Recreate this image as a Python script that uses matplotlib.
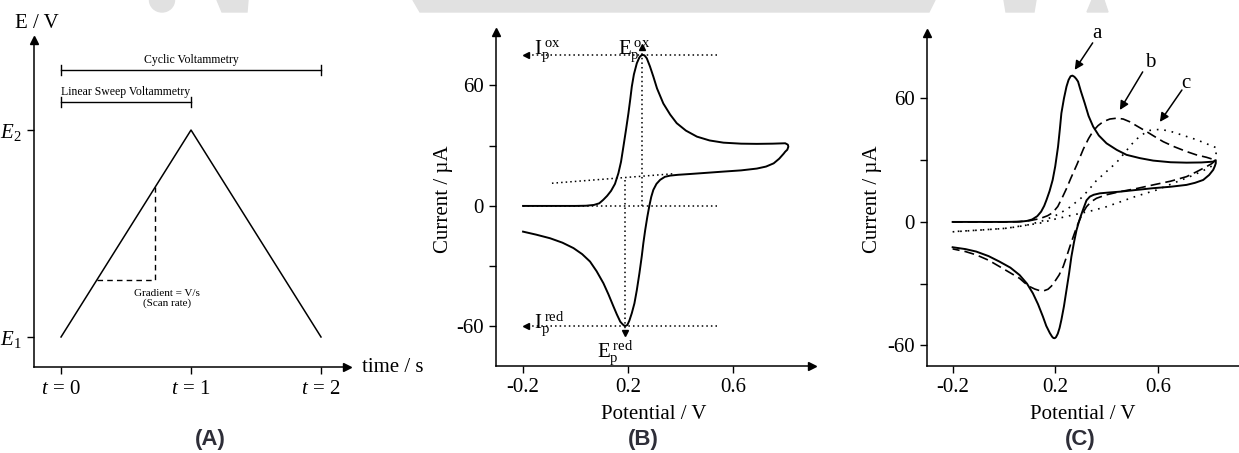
import matplotlib
matplotlib.use('Agg')
import matplotlib.pyplot as plt
from matplotlib.patches import Polygon, Ellipse

plt.rcParams['font.family'] = ['Liberation Serif', 'DejaVu Serif']
plt.rcParams['mathtext.fontset'] = 'custom'
plt.rcParams['mathtext.rm'] = 'Liberation Serif'
plt.rcParams['mathtext.it'] = 'Liberation Serif:italic'
plt.rcParams['axes.unicode_minus'] = False

# ---------- data ----------
# (A) potential waveform, E1 = 1, E2 = 2 (arbitrary units)
wave_t = [0, 1, 2]
wave_E = [1, 2, 1]
grad_t = [0.277, 0.723, 0.723]
grad_E = [1.277, 1.277, 1.723]
a_xticks = [0, 1, 2]
a_xlabels = ['$t$ = 0', '$t$ = 1', '$t$ = 2']
a_yticks = [1, 2]
a_ylabels = ['$E_1$', '$E_2$']

# (B) single cyclic voltammogram (potential V, current uA)
cv_E = [-0.2, -0.1, 0.0, 0.04, 0.07, 0.09, 0.105, 0.12, 0.135, 0.15, 0.163,
        0.173, 0.182, 0.192, 0.201, 0.208, 0.214, 0.222, 0.233, 0.243, 0.252,
        0.262, 0.271, 0.283, 0.296, 0.31, 0.334, 0.36, 0.385, 0.42, 0.462,
        0.51, 0.563, 0.63, 0.69, 0.75, 0.798, 0.808, 0.81,
        0.806, 0.798, 0.792, 0.775, 0.754, 0.725, 0.69, 0.63, 0.563, 0.5,
        0.436, 0.39, 0.36, 0.34, 0.322, 0.308, 0.296, 0.288, 0.281, 0.273,
        0.265, 0.258, 0.252, 0.243, 0.233, 0.224, 0.214, 0.205, 0.197, 0.189,
        0.182, 0.176, 0.17, 0.157, 0.144, 0.125, 0.106, 0.08, 0.055, 0.025,
        -0.008, -0.05, -0.097, -0.15, -0.2]
cv_I = [0, 0, 0, 0.1, 0.5, 1.3, 3, 5, 7.5, 11, 16.3,
        22, 29.5, 38, 46, 53, 59.4, 65.5, 71, 74, 75.2,
        75, 73.5, 69.5, 64.4, 58.5, 51, 45.5, 41.2, 37.5, 34.5,
        32.6, 31.5, 31, 30.9, 31, 31.2, 30.5, 29.5,
        28, 27, 26, 23.5, 21.2, 19.6, 18.6, 17.7, 17.1, 16.5,
        15.9, 15.5, 15.1, 14.5, 13, 11, 8, 4.5, 0.2, -5.5,
        -12, -18.5, -25, -33.5, -42, -48.5, -53.4, -57, -59.3, -59.8,
        -59.3, -58.5, -57.6, -54, -50, -44, -38.5, -32.5, -27.7, -24,
        -21, -18.3, -16.1, -14.3, -12.8]
ipa, ipc = 75.2, -59.8
epa, epc = 0.252, 0.189
base_E = [-0.09, 0.37]
base_I = [11.3, 16.0]

# (C) three voltammograms a, b, c
a_E = [-0.2, -0.1, 0.0, 0.06, 0.09, 0.11, 0.13, 0.145, 0.157, 0.166, 0.178,
       0.19, 0.2, 0.211, 0.218, 0.224, 0.234, 0.244, 0.252, 0.26, 0.267,
       0.275, 0.282, 0.289, 0.3, 0.315, 0.33, 0.348, 0.37, 0.40, 0.44,
       0.478, 0.53, 0.582, 0.65, 0.712, 0.77, 0.816, 0.826,
       0.826, 0.822, 0.816, 0.8, 0.777, 0.745, 0.712, 0.65, 0.582, 0.52,
       0.452, 0.41, 0.374, 0.35, 0.335, 0.322, 0.31, 0.3, 0.291, 0.283,
       0.273, 0.263, 0.254, 0.244, 0.234, 0.224, 0.217, 0.21, 0.203, 0.198,
       0.193, 0.188, 0.179, 0.165, 0.152, 0.133, 0.113, 0.09, 0.061, 0.025,
       -0.017, -0.06, -0.108, -0.15, -0.2]
a_I = [0, 0, 0, 0.1, 0.5, 1.2, 2.8, 5, 7.8, 10.7, 15,
       20.4, 27, 36.6, 45, 52.8, 60, 65.8, 69, 70.8, 71.1,
       70.5, 69.5, 68.2, 63.5, 57.7, 51.5, 46.3, 42, 38.2, 35,
       32.6, 31, 29.8, 29, 28.8, 28.9, 29.3, 30,
       28.5, 27, 25.3, 22.8, 20.4, 19, 18, 17.1, 16.4, 15.6,
       14.7, 14.3, 13.9, 13.2, 12.3, 10.5, 6.5, 3, -0.5, -4,
       -10, -16.9, -25, -33, -41, -47.6, -51.5, -54.3, -56, -56.5,
       -56.4, -55.8, -54, -50.5, -46, -40, -34.7, -30, -25.8, -22.2,
       -19.3, -16.6, -14.4, -13.2, -12.3]
b_E = [-0.2, 0.0, 0.05, 0.10, 0.14, 0.17, 0.19, 0.21, 0.23, 0.245, 0.26,
       0.285, 0.31, 0.33, 0.348, 0.367, 0.387, 0.413, 0.439, 0.465, 0.49,
       0.52, 0.556, 0.59, 0.621, 0.665, 0.712, 0.75, 0.79, 0.826,
       0.81, 0.79, 0.75, 0.712, 0.65, 0.582, 0.52, 0.452, 0.40, 0.361,
       0.34, 0.322, 0.306, 0.295, 0.283, 0.27, 0.257, 0.244, 0.231, 0.215,
       0.198, 0.185, 0.172, 0.155, 0.14, 0.12, 0.10, 0.08, 0.061, 0.02,
       -0.017, -0.06, -0.108, -0.15, -0.2]
b_I = [0, 0, 0.1, 0.6, 1.6, 3, 4.5, 7.5, 12.5, 16.5, 21,
       28, 35.5, 40.5, 44.2, 46.8, 48.7, 50, 50.4, 50, 48.7,
       46.5, 43.9, 41.3, 39, 36.5, 34.2, 32.6, 31.4, 30,
       28.3, 26.9, 24.3, 22, 19.8, 18, 16.3, 14.7, 13.2, 11.5,
       9.8, 7.4, 4, 1, -2.7, -7.3, -12, -17, -21.7, -25.8,
       -29, -31.2, -32.7, -33.5, -33.4, -32.6, -31.4, -29.5, -27.4, -24.4,
       -21.7, -18.6, -16, -14.4, -13.1]
c_E = [-0.2, -0.1, 0.0, 0.05, 0.10, 0.15, 0.2, 0.25, 0.30, 0.33, 0.36,
       0.40, 0.44, 0.47, 0.50, 0.52, 0.54, 0.57, 0.61, 0.65, 0.70,
       0.75, 0.79, 0.829,
       0.827, 0.825, 0.816, 0.775, 0.725, 0.66, 0.595, 0.55, 0.504, 0.45,
       0.40, 0.335, 0.27, 0.2, 0.14, 0.07, 0.008, -0.1, -0.2]
c_I = [-4.8, -4.0, -3.2, -2.4, -1.3, 0.5, 3, 6.5, 11.5, 15.5, 20,
       24.5, 29, 33.5, 38, 40.5, 42.5, 44.5, 45, 44, 42,
       40, 38, 36,
       33, 30.5, 27.5, 24.8, 22, 18.8, 15.5, 13.8, 12.0, 9.6,
       7.4, 5.2, 3.4, 1.4, -0.6, -1.9, -3.1, -4, -4.7]

W, H = 1239, 453
fig = plt.figure(figsize=(W / 100, H / 100), dpi=100)


def box(l, t, r, b):
    return [l / W, 1 - b / H, (r - l) / W, (b - t) / H]


def arrow_axes(ax):
    for s in ['top', 'right']:
        ax.spines[s].set_visible(False)
    for s in ['left', 'bottom']:
        ax.spines[s].set_linewidth(1.1)
    ax.plot(1, 0, '>k', ms=6, transform=ax.transAxes, clip_on=False)
    ax.plot(0, 1, '^k', ms=6, transform=ax.transAxes, clip_on=False)
    ax.tick_params(direction='out', length=5, width=1, labelsize=15, pad=4)


# watermark remnants at the top
grey = '#e1e1e1'
fig.add_artist(Ellipse((162 / W, 1.0), 25 / W, 24 / H, color=grey, transform=fig.transFigure))
fig.add_artist(Polygon([(217 / W, 1), (248 / W, 1), (247 / W, 1 - 12 / H), (222 / W, 1 - 12 / H)],
                       color=grey, transform=fig.transFigure))
fig.add_artist(Polygon([(413 / W, 1), (935 / W, 1), (929 / W, 1 - 12 / H), (420 / W, 1 - 12 / H)],
                       color=grey, transform=fig.transFigure))
fig.add_artist(Polygon([(1004 / W, 1), (1036 / W, 1), (1034 / W, 1 - 12 / H), (1006 / W, 1 - 12 / H)],
                       color=grey, transform=fig.transFigure))
fig.add_artist(Polygon([(1092 / W, 1), (1104 / W, 1), (1108 / W, 1 - 12 / H), (1087 / W, 1 - 12 / H)],
                       color=grey, transform=fig.transFigure))

# ---------- (A) ----------
ax = fig.add_axes(box(34, 40, 347, 367))
arrow_axes(ax)
ax.plot(wave_t, wave_E, color='k', lw=1.1)
ax.plot(grad_t, grad_E, color='k', lw=1.0, ls=(0, (4, 3)))
ax.set_xlim(-0.208, 2.2)
ax.set_ylim(0.855, 2.435)
ax.set_xticks(a_xticks)
ax.set_xticklabels(a_xlabels, fontsize=15)
ax.set_yticks(a_yticks)
ax.set_yticklabels(a_ylabels, fontsize=15)
# bars
ax.plot([0, 2], [2.29, 2.29], color='k', lw=1.0)
ax.plot([0, 0], [2.265, 2.315], color='k', lw=1.0)
ax.plot([2, 2], [2.265, 2.315], color='k', lw=1.0)
ax.plot([0, 1], [2.135, 2.135], color='k', lw=1.0)
ax.plot([0, 0], [2.11, 2.16], color='k', lw=1.0)
ax.plot([1, 1], [2.11, 2.16], color='k', lw=1.0)
ax.text(1.0, 2.34, 'Cyclic Voltammetry', fontsize=8.5, ha='center', va='center')
ax.text(0.5, 2.185, 'Linear Sweep Voltammetry', fontsize=8.5, ha='center', va='center')
ax.text(0.815, 1.185, 'Gradient = V/s\n(Scan rate)', fontsize=8, ha='center', va='center',
        linespacing=1.0)
fig.text(15 / W, 1 - 23 / H, 'E / V', fontsize=15, ha='left', va='center')
fig.text(362 / W, 1 - 368 / H, 'time / s', fontsize=15, ha='left', va='center')

# ---------- (B) ----------
ax = fig.add_axes(box(496, 32, 812, 366))
arrow_axes(ax)
ax.plot(cv_E, cv_I, color='k', lw=1.4)
dot = dict(color='k', lw=1.1, ls=(0, (1, 2)))
ax.plot([0.54, -0.19], [ipa, ipa], **dot)
ax.plot([0.54, -0.19], [ipc, ipc], **dot)
ax.plot([-0.2, 0.54], [0, 0], **dot)
ax.plot([epa, epa], [0, 78], **dot)
ax.plot([epc, epc], [13, -62], **dot)
ax.plot(base_E, base_I, **dot)
ax.plot(-0.19, ipa, '<k', ms=5)
ax.plot(-0.19, ipc, '<k', ms=5)
ax.plot(epa, 79, '^k', ms=5)
ax.plot(epc, -63.5, 'vk', ms=5)
ax.set_xlim(-0.303, 0.90)
ax.set_ylim(-79.7, 86.6)
ax.set_xticks([-0.2, 0.2, 0.6])
ax.set_xticklabels(['-0.2', '0.2', '0.6'])
ax.set_yticks([-60, -30, 0, 30, 60])
ax.set_yticklabels(['-60', '', '0', '', '60'])
ax.set_xlabel('Potential / V', fontsize=15)
ax.set_ylabel('Current / µA', fontsize=15)
ax.xaxis.set_label_coords(0.5, -0.117)
ax.yaxis.set_label_coords(-0.136, 0.5)
ax.text(-0.158, 75.5, r'$\mathrm{I}_\mathrm{p}^{\;\mathrm{ox}}$', fontsize=15, ha='left', va='baseline')
ax.text(0.16, 75.5, r'$\mathrm{E}_\mathrm{p}^{\;\mathrm{ox}}$', fontsize=15, ha='left', va='baseline')
ax.text(-0.158, -60.5, r'$\mathrm{I}_\mathrm{p}^{\;\mathrm{red}}$', fontsize=15, ha='left', va='baseline')
ax.text(0.082, -75.0, r'$\mathrm{E}_\mathrm{p}^{\;\mathrm{red}}$', fontsize=15, ha='left', va='baseline')

# ---------- (C) ----------
ax = fig.add_axes(box(927, 33, 1245, 366))
arrow_axes(ax)
ax.plot(a_E, a_I, color='k', lw=1.4)
ax.plot(b_E, b_I, color='k', lw=1.2, ls=(0, (6, 3)))
ax.plot(c_E, c_I, color='k', lw=1.2, ls=(0, (1, 3.5)))
ax.set_xlim(-0.30, 0.94)
ax.set_ylim(-70, 91.8)
ax.set_xticks([-0.2, 0.2, 0.6])
ax.set_xticklabels(['-0.2', '0.2', '0.6'])
ax.set_yticks([-60, -30, 0, 30, 60])
ax.set_yticklabels(['-60', '', '0', '', '60'])
ax.set_xlabel('Potential / V', fontsize=15)
ax.set_ylabel('Current / µA', fontsize=15)
ax.xaxis.set_label_coords(0.49, -0.117)
ax.yaxis.set_label_coords(-0.142, 0.5)
arr = dict(arrowstyle='-|>', color='k', lw=1.1, mutation_scale=13, shrinkA=0, shrinkB=0)
ax.annotate('', xy=(0.276, 73.9), xytext=(0.346, 87), arrowprops=arr)
ax.annotate('', xy=(0.452, 54.4), xytext=(0.541, 72.9), arrowprops=arr)
ax.annotate('', xy=(0.608, 48.6), xytext=(0.694, 64.1), arrowprops=arr)
ax.text(0.362, 91.5, 'a', fontsize=15, ha='center', va='center')
ax.text(0.569, 77.7, 'b', fontsize=15, ha='center', va='center')
ax.text(0.709, 67.5, 'c', fontsize=15, ha='center', va='center')

# panel letters
for x, lab in [(210, '(A)'), (643, '(B)'), (1080, '(C)')]:
    fig.text(x / W, 1 - 439 / H, lab, fontsize=16, ha='center', va='center',
             family='Liberation Sans', weight='bold', color='#2e2e38')

fig.savefig('out.png', dpi=100)
